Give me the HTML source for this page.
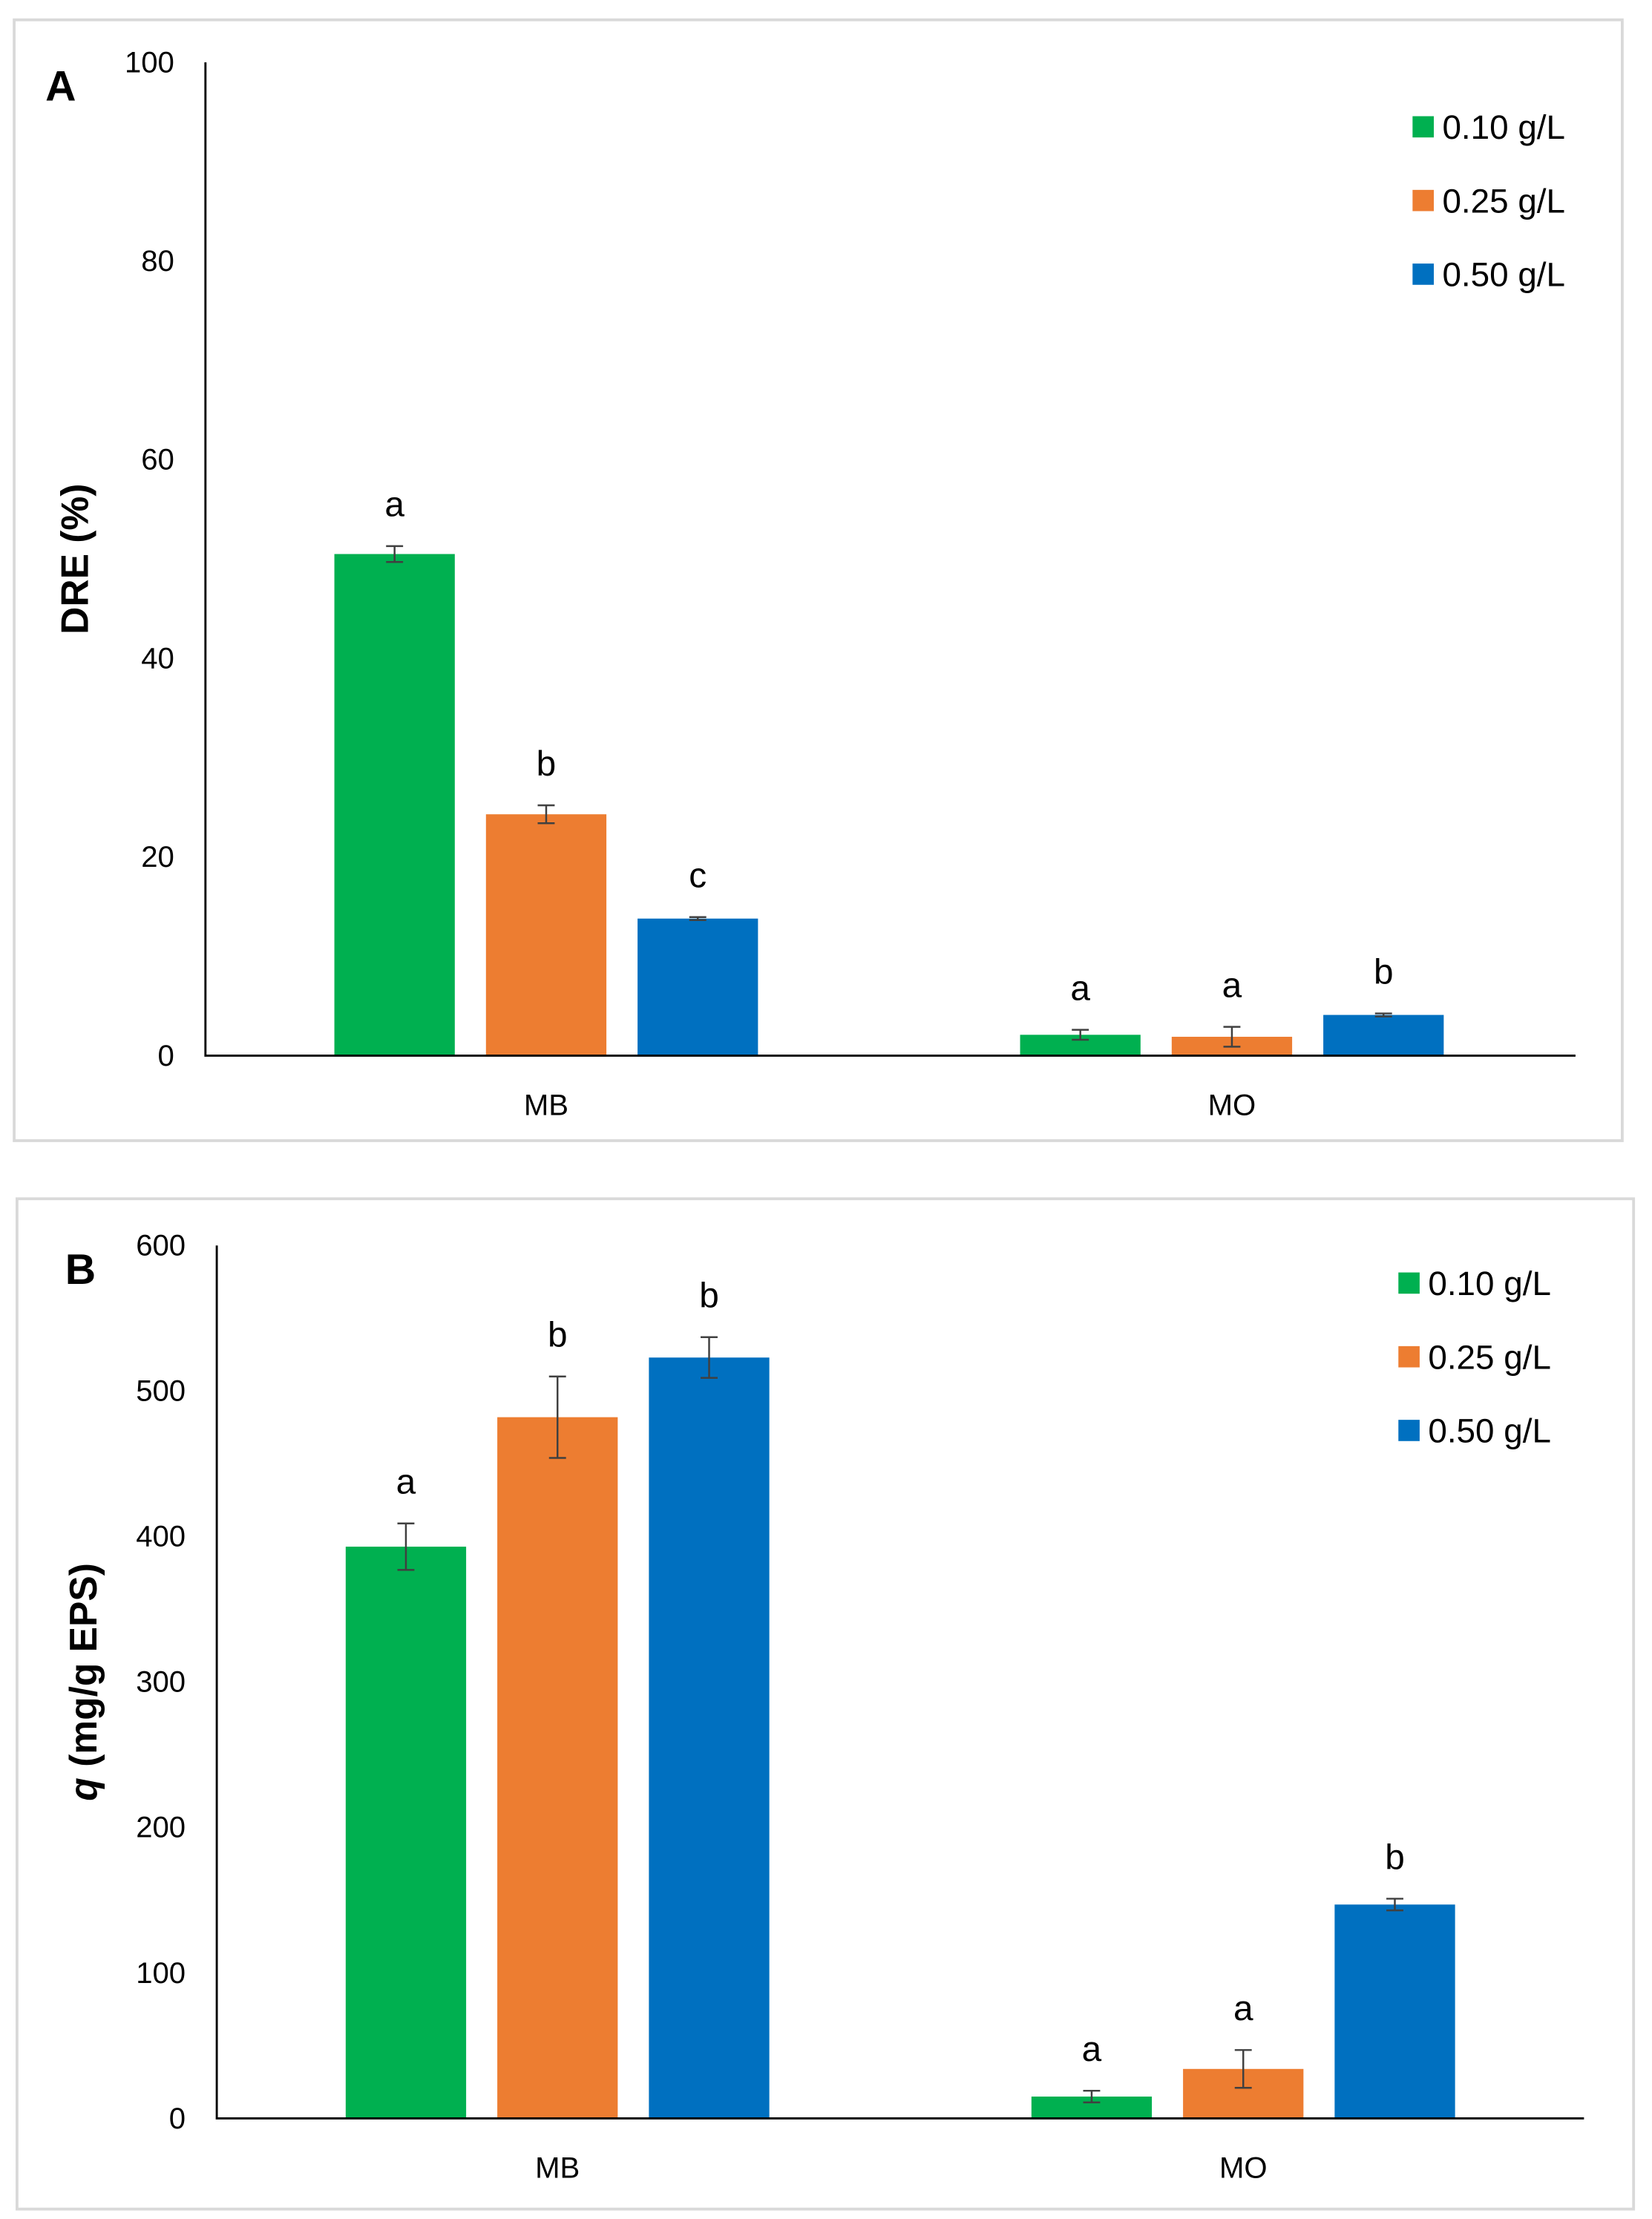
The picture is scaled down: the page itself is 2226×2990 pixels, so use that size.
<!DOCTYPE html>
<html><head><meta charset="utf-8"><style>
html,body{margin:0;padding:0;background:#fff}
svg{display:block}
text{font-family:"Liberation Sans",sans-serif;fill:#000}
</style></head><body>
<svg id="fig" width="2226" height="2990" viewBox="0 0 1166 1566" preserveAspectRatio="none" xmlns="http://www.w3.org/2000/svg">
<rect x="10" y="14" width="1135" height="791" fill="#fff" stroke="#d9d9d9" stroke-width="2"/>
<rect x="12" y="846" width="1141" height="713" fill="#fff" stroke="#d9d9d9" stroke-width="2"/>
<g id="pa"></g>
<g id="pb"></g>
</svg>
<script>
const categories = ["MB","MO"];
const seriesNames = ["0.10 g/L","0.25 g/L","0.50 g/L"];
const colors = ["#00b050","#ed7d31","#0070c0"];
const dreValues = [[50.5,2.1],[24.3,1.9],[13.8,4.1]];
const dreErrors = [[0.8,0.5],[0.9,1.0],[0.15,0.15]];
const dreLetters = [["a","a"],["b","a"],["c","b"]];
const dreTicks = [0,20,40,60,80,100];
const qValues = [[393,15],[482,34],[523,147]];
const qErrors = [[16,4],[28,13],[14,4]];
const qLetters = [["a","a"],["b","a"],["b","b"]];
const qTicks = [0,100,200,300,400,500,600];

const NS="http://www.w3.org/2000/svg";
function mk(p,tag,attrs,txt){const e=document.createElementNS(NS,tag);for(const k in attrs)e.setAttribute(k,attrs[k]);if(txt!==undefined)e.textContent=txt;p.appendChild(e);return e;}

function draw(g,cfg){
  const {x0,x1,y0,yTop,max,ticks,values,errors,letters,groupStarts,title,label,labelX,labelY,legX,legY,titleItalic}=cfg;
  const ys=v=>y0-(v/max)*(y0-yTop);
  ticks.forEach(t=>{
    const tl=mk(g,'text',{x:x0-22,y:ys(t)+7,'text-anchor':'end','font-size':21},String(t));
    
    
  });
  const bw=85, gap=107;
  categories.forEach((c,ci)=>{
    values.forEach((s,si)=>{
      const v=s[ci], bx=groupStarts[ci]+si*gap, by=ys(v);
      const r=mk(g,'rect',{x:bx,y:by,width:bw,height:y0-by,fill:colors[si]});
      
      
      const e=errors[si][ci], cx=bx+bw/2, ya=ys(v+e), yb=ys(v-e);
      const eb=mk(g,'path',{d:`M${cx-6},${ya}H${cx+6}M${cx},${ya}V${yb}M${cx-6},${yb}H${cx+6}`,stroke:'#404040','stroke-width':1.3,fill:'none'});
      
      
      const lt=mk(g,'text',{x:cx,y:ya-21,'text-anchor':'middle','font-size':25},letters[si][ci]);
      
      
    });
    const cl=mk(g,'text',{x:groupStarts[ci]+bw/2+gap,y:y0+42,'text-anchor':'middle','font-size':21},c);
    
    
  });
  const ax=mk(g,'path',{d:`M${x0},${yTop}V${y0}H${x1}`,stroke:'#000','stroke-width':1.5,fill:'none'});
  
  
  const tt=mk(g,'text',{transform:`translate(${cfg.titleX},${(yTop+y0)/2}) rotate(-90)`,'text-anchor':'middle','font-size':27,'font-weight':'bold'});
  
  
  if(titleItalic){mk(tt,'tspan',{'font-style':'italic'},'q');mk(tt,'tspan',{},' (mg/g EPS)');}else{tt.textContent=title;}
  const pl=mk(g,'text',{x:labelX,y:labelY,'font-size':30,'font-weight':'bold'},label);
  
  
  seriesNames.forEach((n,i)=>{
    const le=mk(g,'g',{});
    
    
    mk(le,'rect',{x:legX,y:legY+i*52-8,width:15,height:15,fill:colors[i]});
    mk(le,'text',{x:legX+21,y:legY+i*52+8,'font-size':24},n);
  });
}
draw(document.getElementById('pa'),{x0:145,x1:1112,y0:745,yTop:44,max:100,ticks:dreTicks,values:dreValues,errors:dreErrors,letters:dreLetters,groupStarts:[236,720],title:'DRE (%)',label:'A',labelX:32,labelY:71,legX:997,legY:90,titleX:62});
draw(document.getElementById('pb'),{x0:153,x1:1118,y0:1495,yTop:879,max:600,ticks:qTicks,values:qValues,errors:qErrors,letters:qLetters,groupStarts:[244,728],title:'q (mg/g EPS)',label:'B',labelX:46,labelY:906,legX:987,legY:906,titleX:68,titleItalic:true});
</script>
</body></html>
